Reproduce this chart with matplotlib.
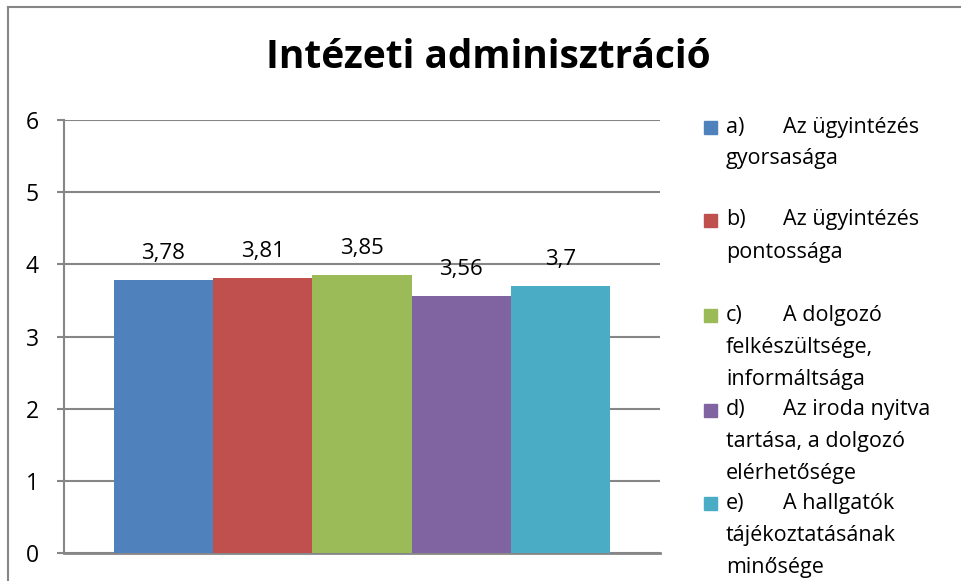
import matplotlib.pyplot as plt
from matplotlib.patches import Rectangle
from matplotlib.lines import Line2D

plt.rcParams['font.family'] = ['Open Sans', 'DejaVu Sans']

# data
title = 'Intézeti adminisztráció'
items = ['a)', 'b)', 'c)', 'd)', 'e)']
labels = ['Az ügyintézés\ngyorsasága',
          'Az ügyintézés\npontossága',
          'A dolgozó\nfelkészültsége,\ninformáltsága',
          'Az iroda nyitva\ntartása, a dolgozó\nelérhetősége',
          'A hallgatók\ntájékoztatásának\nminősége']
values = [3.78, 3.81, 3.85, 3.56, 3.7]
value_text = ['3,78', '3,81', '3,85', '3,56', '3,7']
colors = ['#4F81BD', '#C0504D', '#9BBB59', '#8064A2', '#4BACC6']

W, H = 962, 581
fig = plt.figure(figsize=(W / 100, H / 100), dpi=100)
ax = fig.add_axes([64 / W, 1 - 553 / H, (660 - 64) / W, (553 - 120) / H])

grey = '#868686'
x = range(len(values))
ax.bar(x, values, width=1.0, color=colors, zorder=3)
for i, v in enumerate(values):
    ax.annotate(value_text[i], (i, v), xytext=(0, 15), textcoords='offset points',
                ha='center', va='baseline', fontsize=16, color='black')

ax.set_xlim(-1, 5)
ax.set_ylim(0, 6)
ax.set_yticks(range(0, 7))
ax.set_xticks([])
ax.grid(axis='y', color=grey, linewidth=1.5, zorder=0)
for s in ['top', 'right']:
    ax.spines[s].set_visible(False)
ax.spines['left'].set_color(grey)
ax.spines['left'].set_linewidth(1.5)
ax.spines['bottom'].set_color(grey)
ax.spines['bottom'].set_linewidth(2)
ax.tick_params(axis='y', length=5, width=1.5, color=grey, pad=13, labelsize=16.5)

fig.text(488 / W, 1 - 58 / H, title, ha='center', va='center',
         fontsize=28, fontweight='bold')

# legend drawn by hand, one slot per entry
tops = [127, 220, 315, 410, 503]
for i, (it, lab) in enumerate(zip(items, labels)):
    y = tops[i]
    fig.add_artist(Rectangle((704 / W, 1 - (y + 7) / H), 13 / W, 13 / H,
                             transform=fig.transFigure, color=colors[i]))
    lines = lab.split('\n')
    fig.text(726 / W, 1 - y / H, it, ha='left', va='center', fontsize=15.5)
    fig.text(783 / W, 1 - y / H, lines[0], ha='left', va='center', fontsize=15.5)
    for j, ln in enumerate(lines[1:]):
        fig.text(726 / W, 1 - (y + 32 * (j + 1)) / H, ln, ha='left',
                 va='center', fontsize=15.5)

# outer chart border (left and top only are inside the picture)
fig.add_artist(Line2D([8 / W, 8 / W], [0, 1 - 7 / H], color=grey, lw=1.5,
                      transform=fig.transFigure))
fig.add_artist(Line2D([8 / W, 1], [1 - 7 / H, 1 - 7 / H], color=grey, lw=1.5,
                      transform=fig.transFigure))

fig.savefig('out.png', dpi=100)
